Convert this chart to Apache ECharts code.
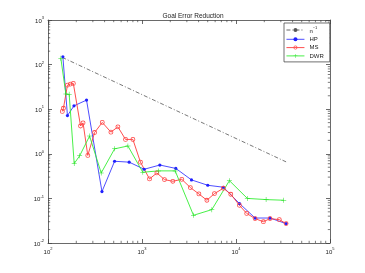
<!DOCTYPE html>
<html><head><meta charset="utf-8">
<script src="https://cdn.jsdelivr.net/npm/echarts@6/dist/echarts.min.js"></script>
<style>html,body{margin:0;padding:0;background:#fff}#c{width:365px;height:273px}</style>
</head><body><div id="c"></div>
<script>
const refX = [142, 34100];
const refY = [145, 0.66];
const hpX = [144,161,189,257,375,511,731,1055,1548,2290,3360,5010,7340,10900,15960,23000,34100];
const hpY = [150,7.2,11.9,16,0.142,0.68,0.65,0.45,0.56,0.47,0.26,0.197,0.178,0.0766,0.0363,0.0363,0.0272];
const msX = [142,146,161,173,186,222,236,265,313,378,467,554,668,800,963,1202,1440,1734,2127,2650,3270,4030,4900,5900,7340,8800,10870,13000,15960,19560,23000,28900,34100];
const msY = [8.9,10.5,34.6,36.6,37.8,4.2,4.94,0.92,3.0,5.05,3.06,4.02,2.1,2.1,0.65,0.273,0.372,0.264,0.242,0.268,0.175,0.126,0.091,0.128,0.169,0.124,0.070,0.046,0.0352,0.030,0.0352,0.0334,0.0272];
const dwrX = [137,155,168,190,217,277,368,511,708,1020,1497,2254,3530,5530,8510,13200,20900,32200];
const dwrY = [138,21.8,21.5,0.605,0.9,2.5,0.372,1.29,1.5,0.386,0.414,0.414,0.0418,0.056,0.25,0.1,0.094,0.091];
const xRange = [100, 100000];
const yRange = [0.01, 1000];
const seriesNames = ['n-1', 'HP', 'MS', 'DWR'];

function zip(a, b) { return a.map((v, i) => [v, b[i]]); }
function minors(lo, hi) {
  const out = [];
  for (let d = lo; d < hi; d *= 10) for (let k = 2; k <= 9; k++) out.push(+(d * k).toPrecision(6));
  return out;
}
const xMinor = minors(xRange[0], xRange[1]);
const yMinor = minors(yRange[0], yRange[1]);

const FONT = 'Liberation Sans';
const rich = {
  b: { fontSize: 6, fontFamily: FONT, color: '#222', verticalAlign: 'bottom', lineHeight: 8 },
  s: { fontSize: 4, fontFamily: FONT, color: '#222', verticalAlign: 'top', lineHeight: 8 }
};
function powLabel(v) { return '{b|10}{s|' + Math.round(Math.log10(v)) + '}'; }

const RING = 'path://M5,0A5,5 0 1 1 5,10A5,5 0 1 1 5,0ZM5,1.7A3.3,3.3 0 1 0 5,8.3A3.3,3.3 0 1 0 5,1.7Z';
const PLUS = 'path://M4.5,0h1v4.5h4.5v1h-4.5v4.5h-1v-4.5h-4.5v-1h4.5z';

const axisLineStyle = { color: '#444', width: 0.8 };
const baseAxis = (pos, range, showLabel) => ({
  type: 'log', logBase: 10, min: range[0], max: range[1], position: pos,
  axisLine: { show: true, lineStyle: axisLineStyle },
  axisTick: { show: true, inside: true, length: 4, lineStyle: axisLineStyle },
  splitLine: { show: false },
  axisLabel: { show: showLabel, formatter: powLabel, rich: rich, margin: 4 }
});

const chart = echarts.init(document.getElementById('c'), null, { renderer: 'canvas' });
chart.setOption({
  animation: false,
  backgroundColor: '#fff',
  title: { text: 'Goal Error Reduction', left: 188, top: 8, textAlign: 'center',
    textStyle: { fontSize: 6.5, fontWeight: 'normal', fontFamily: FONT, color: '#222' } },
  grid: { left: 48, right: 35, top: 20, bottom: 30 },
  xAxis: [baseAxis('bottom', xRange, true), baseAxis('top', xRange, false)],
  yAxis: [baseAxis('left', yRange, true), baseAxis('right', yRange, false)],
  legend: {
    orient: 'vertical', left: 284, top: 23, width: 42,
    data: seriesNames,
    itemWidth: 18, itemHeight: 5, itemGap: 2.3,
    padding: [3, 6, 3, 2],
    borderColor: '#333', borderWidth: 0.7, backgroundColor: '#fff',
    lineStyle: { width: 0.9 },
    textStyle: { fontSize: 6, fontFamily: FONT, color: '#222',
      rich: { b: { fontSize: 6, fontFamily: FONT, color: '#222', verticalAlign: 'bottom', lineHeight: 8 },
              s: { fontSize: 4, fontFamily: FONT, color: '#222', verticalAlign: 'top', lineHeight: 8 } } },
    formatter: n => n === 'n-1' ? '{b|n}{s|\u22121}' : n
  },
  series: [
    { name: 'n-1', type: 'line', data: zip(refX, refY), symbol: 'none',
      lineStyle: { color: '#555', width: 0.8, type: [4, 2, 1, 2] }, itemStyle: { color: '#555' } },
    { name: 'HP', type: 'line', data: zip(hpX, hpY), symbol: 'circle', symbolSize: 3.2,
      lineStyle: { color: '#3a3aff', width: 0.9 }, itemStyle: { color: '#2020ff' } },
    { name: 'MS', type: 'line', data: zip(msX, msY), symbol: RING, symbolSize: 4.8,
      lineStyle: { color: '#ff3a3a', width: 0.9 }, itemStyle: { color: '#ff4a4a', borderWidth: 0 } },
    { name: 'DWR', type: 'line', data: zip(dwrX, dwrY),
      symbol: PLUS, symbolSize: 5,
      lineStyle: { color: '#33ee33', width: 0.9 }, itemStyle: { color: '#22dd22' } },
    { type: 'custom', silent: true, clip: false, data: xMinor.map(v => [v, 1]),
      renderItem: (p, api) => {
        const v = api.value(0);
        const a = api.coord([v, yRange[0]]), b = api.coord([v, yRange[1]]);
        return { type: 'group', children: [
          { type: 'line', shape: { x1: a[0], y1: a[1], x2: a[0], y2: a[1] - 2.2 }, style: { stroke: '#444', lineWidth: 0.7 } },
          { type: 'line', shape: { x1: b[0], y1: b[1], x2: b[0], y2: b[1] + 2.2 }, style: { stroke: '#444', lineWidth: 0.7 } }
        ] };
      } },
    { type: 'custom', silent: true, clip: false, data: yMinor.map(v => [1000, v]),
      renderItem: (p, api) => {
        const v = api.value(1);
        const a = api.coord([xRange[0], v]), b = api.coord([xRange[1], v]);
        return { type: 'group', children: [
          { type: 'line', shape: { x1: a[0], y1: a[1], x2: a[0] + 2.2, y2: a[1] }, style: { stroke: '#444', lineWidth: 0.7 } },
          { type: 'line', shape: { x1: b[0], y1: b[1], x2: b[0] - 2.2, y2: b[1] }, style: { stroke: '#444', lineWidth: 0.7 } }
        ] };
      } }
  ]
});
</script></body></html>
